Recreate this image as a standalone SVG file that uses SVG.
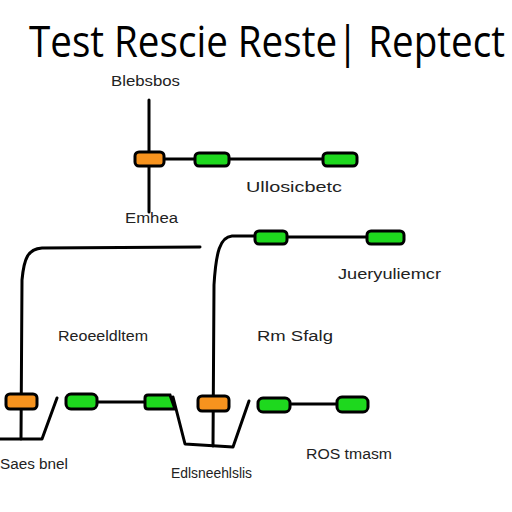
<svg xmlns="http://www.w3.org/2000/svg" width="512" height="512" viewBox="0 0 512 512">
<style>
.w{fill:none;stroke:#000;stroke-width:3;stroke-linecap:round;stroke-linejoin:round}
.g{fill:#1ed81e;stroke:#000;stroke-width:3}
.o{fill:#f7931e;stroke:#000;stroke-width:3}
.l{font-family:"Liberation Sans",Arial,sans-serif;font-size:14px;fill:#222}
</style>
<rect width="512" height="512" fill="#fff"/>
<text transform="scale(1,1.2)" x="29" y="47.5" font-family="Open Sans, DejaVu Sans, sans-serif" font-size="36" font-weight="500" fill="#000" textLength="476" lengthAdjust="spacingAndGlyphs">Test Rescie Reste| Reptect</text>
<g id="connectors">
<path class="w" d="M149,100 V212"/>
<path class="w" d="M164,159 H323"/>
<path class="w" d="M287,237 H367"/>
<path class="w" d="M200,247 L42,248 C28,249 24,258 22,280 L21,439"/>
<path class="w" d="M0,439 H42 L57,398"/>
<path class="w" d="M97,402 H145"/>
<path class="w" d="M255,236 L232,236 C220,237 216,252 214,285 L213,446"/>
<path class="w" d="M173,397 L185,444 L233,447 L249,401"/>
<path class="w" d="M290,404 H337"/>
</g>
<g id="n1"><rect class="o" x="135" y="152" width="29" height="14" rx="4"/></g>
<g id="n2"><rect class="g" x="195" y="153" width="34" height="13" rx="4"/></g>
<g id="n3"><rect class="g" x="323" y="153" width="34" height="13" rx="4"/></g>
<g id="n4"><rect class="g" x="255" y="231" width="32" height="13" rx="4"/></g>
<g id="n5"><rect class="g" x="367" y="231" width="37" height="13" rx="4"/></g>
<g id="n6"><rect class="o" x="6" y="394" width="31" height="15" rx="4"/></g>
<g id="n7"><rect class="g" x="66" y="394" width="31" height="15" rx="5"/></g>
<g id="n8"><path class="g" d="M148,395 H170 L175,409 H148 Q145,409 145,406 V398 Q145,395 148,395 Z"/></g>
<g id="n9"><rect class="o" x="198" y="396" width="31" height="15" rx="4"/></g>
<g id="n10"><rect class="g" x="258" y="398" width="32" height="14" rx="5"/></g>
<g id="n11"><rect class="g" x="337" y="397" width="31" height="15" rx="5"/></g>
<g id="labels">
<text class="l" x="111" y="86" textLength="69" lengthAdjust="spacingAndGlyphs">Blebsbos</text>
<text class="l" x="246" y="192" font-size="15" textLength="96" lengthAdjust="spacingAndGlyphs">Ullosicbetc</text>
<text class="l" x="125" y="223" font-size="15" textLength="53" lengthAdjust="spacingAndGlyphs">Emhea</text>
<text class="l" x="338" y="279" font-size="13" textLength="103" lengthAdjust="spacingAndGlyphs">Jueryuliemcr</text>
<text class="l" x="58" y="341" font-size="17" textLength="90" lengthAdjust="spacingAndGlyphs">Reoeeldltem</text>
<text class="l" x="257" y="341" font-size="18" textLength="76" lengthAdjust="spacingAndGlyphs">Rm Sfalg</text>
<text class="l" x="0" y="469" font-size="15" textLength="68" lengthAdjust="spacingAndGlyphs">Saes bnel</text>
<text class="l" x="171" y="478" font-size="13" textLength="81" lengthAdjust="spacingAndGlyphs">Edlsneehlslis</text>
<text class="l" x="306" y="459" font-size="14" textLength="86" lengthAdjust="spacingAndGlyphs">ROS tmasm</text>
</g>
</svg>
